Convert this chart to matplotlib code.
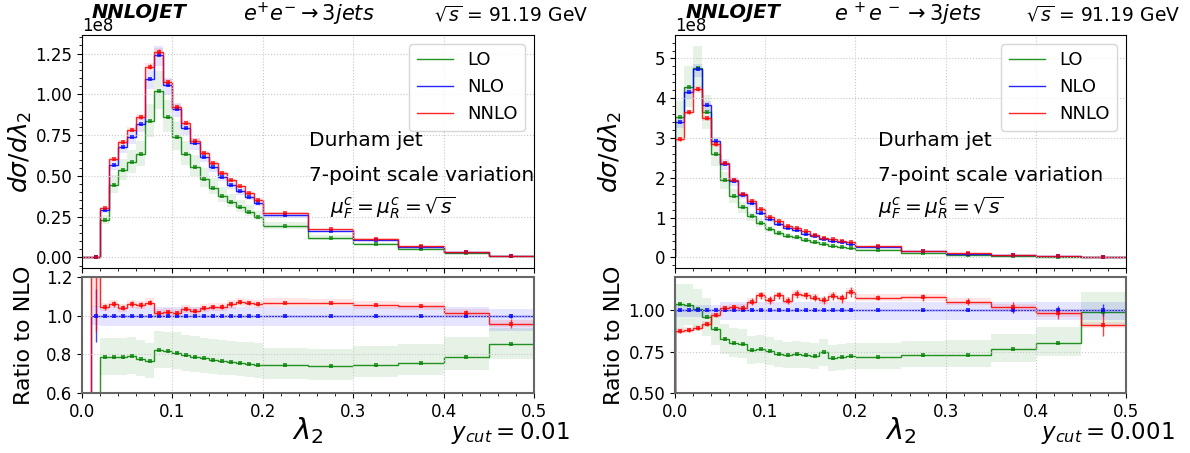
import numpy as np
import matplotlib
matplotlib.use("Agg")
import matplotlib.pyplot as plt
from matplotlib.ticker import AutoMinorLocator, MultipleLocator

nan = np.nan

# bin edges in lambda_2
edges = [0.00, 0.01, 0.02, 0.03, 0.04, 0.05, 0.06, 0.07, 0.08, 0.09, 0.10,
         0.11, 0.12, 0.13, 0.14, 0.15, 0.16, 0.17, 0.18, 0.19, 0.20,
         0.25, 0.30, 0.35, 0.40, 0.45, 0.50]

# ---- ycut = 0.01 ----
# NLO in units of 1e8, LO / NNLO as ratio to NLO
nlo_a = [0.0, 0.002, 0.291, 0.569, 0.680, 0.739, 0.816, 1.095, 1.243, 1.055,
         0.909, 0.796, 0.700, 0.617, 0.553, 0.494, 0.447, 0.407, 0.370, 0.334,
         0.257, 0.163, 0.108, 0.065, 0.031, 0.007]
lo_ratio_a = [nan, 0.25, 0.786, 0.785, 0.785, 0.791, 0.776, 0.765, 0.822, 0.815,
              0.809, 0.795, 0.788, 0.781, 0.773, 0.766, 0.761, 0.756, 0.752, 0.747,
              0.744, 0.740, 0.744, 0.757, 0.787, 0.852]
nnlo_ratio_a = [nan, 1.80, 1.043, 1.060, 1.042, 1.061, 1.056, 1.068, 1.015, 1.019,
                1.015, 1.035, 1.023, 1.040, 1.044, 1.047, 1.058, 1.071, 1.065, 1.062,
                1.068, 1.064, 1.056, 1.048, 1.015, 0.959]
# statistical errors (ratio units)
lo_err_a = [nan, 0.002] + [0.002] * 24
nlo_err_a = [nan, 0.137] + [0.003] * 22 + [0.004, 0.010]
nnlo_err_a = [nan, 0.88] + [0.015] * 6 + [0.011] * 12 + [0.005] * 4 + [0.015, 0.022]
# scale variation envelopes (relative)
lo_up_a = [0.0, 0.12, 0.125, 0.125, 0.125, 0.125, 0.125, 0.125, 0.12, 0.125,
           0.13, 0.13, 0.135, 0.135, 0.14, 0.14, 0.145, 0.145, 0.15, 0.15,
           0.12, 0.12, 0.13, 0.13, 0.13, 0.10]
lo_dn_a = [0.0, 0.11, 0.115, 0.115, 0.115, 0.115, 0.115, 0.115, 0.11, 0.105,
           0.105, 0.10, 0.10, 0.10, 0.095, 0.095, 0.09, 0.09, 0.09, 0.09,
           0.095, 0.095, 0.085, 0.085, 0.085, 0.092]
nlo_up_a = [0.0, 0.05] + [0.045] * 23 + [0.034]
nlo_dn_a = [0.0, 0.05] + [0.056] * 23 + [0.077]
nnlo_up_a = [0.0, 0.40] + [0.02] * 24
nnlo_dn_a = [0.0, 0.42] + [0.02] * 24

# ---- ycut = 0.001 ----
nlo_b = [3.40, 4.15, 4.725, 3.82, 2.93, 2.35, 1.92, 1.575, 1.358, 1.125,
         0.958, 0.833, 0.75, 0.683, 0.60, 0.533, 0.458, 0.417, 0.375, 0.34,
         0.267, 0.15, 0.095, 0.05, 0.025, 0.01]
lo_ratio_b = [1.038, 1.034, 1.006, 0.957, 0.884, 0.827, 0.804, 0.797, 0.761, 0.766,
              0.754, 0.736, 0.729, 0.733, 0.728, 0.724, 0.746, 0.710, 0.718, 0.722,
              0.717, 0.728, 0.732, 0.764, 0.802, 0.988]
nnlo_ratio_b = [0.873, 0.878, 0.895, 0.914, 0.969, 1.011, 1.018, 1.015, 1.051, 1.089,
                1.061, 1.089, 1.057, 1.097, 1.089, 1.076, 1.060, 1.087, 1.071, 1.111,
                1.076, 1.078, 1.052, 1.018, 0.980, 0.910]
lo_err_b = [0.003] * 26
nlo_err_b = [0.004] * 8 + [0.008] * 12 + [0.005] * 3 + [0.016, 0.027, 0.036]
nnlo_err_b = [0.012] * 5 + [0.016] * 3 + [0.022] * 8 + [0.025] * 3 + [0.03,
              0.016, 0.02, 0.022, 0.03, 0.035, 0.067]
lo_up_b = [0.116, 0.12, 0.12, 0.12] + [0.11] * 16 + [0.12] * 5 + [0.12]
lo_dn_b = [0.15, 0.12, 0.12, 0.12] + [0.11] * 16 + [0.10] * 5 + [0.08]
nlo_up_b = [0.03] * 5 + [0.05] * 21
nlo_dn_b = [0.04] * 5 + [0.06] * 21
nnlo_up_b = [0.02] * 26
nnlo_dn_b = [0.02] * 26

W, H = 1190, 453


def draw_panel(axt, axr, nlo, series):
    e = np.array(edges)
    c = 0.5 * (e[1:] + e[:-1])
    nlo = np.array(nlo, float) * 1e8
    for name, col, r, err, up, dn in series:
        r = np.array(r, float)
        err = np.array(err, float)
        up = np.array(up, float)
        dn = np.array(dn, float)
        val = nlo * r
        # top panel: scale band, histogram line, stat errors
        axt.stairs(val * (1 + up), e, baseline=val * (1 - dn), fill=True,
                   color=col, alpha=0.1, lw=0)
        axt.stairs(np.nan_to_num(val), e, baseline=0, color=col, lw=1.0,
                   alpha=0.85, label=name)
        axt.errorbar(c, val, yerr=err * nlo, fmt='s', ms=2.2, mew=0, color=col,
                     capsize=3, elinewidth=1, capthick=1, alpha=0.7)
        # ratio panel
        axr.stairs(r * (1 + up), e, baseline=r * (1 - dn), fill=True,
                   color=col, alpha=0.1, lw=0)
        axr.stairs(r, e, baseline=0, color=col, lw=1.0, alpha=0.85)
        axr.errorbar(c, r, yerr=err, fmt='s', ms=2.4, mew=0, color=col,
                     capsize=3, elinewidth=1, capthick=1, alpha=0.75)


fig = plt.figure(figsize=(W / 100, H / 100), dpi=100)

panels = [
    dict(x0=82, x1=534, nlo=nlo_a, lo=lo_ratio_a, nnlo=nnlo_ratio_a,
         errs=(lo_err_a, nlo_err_a, nnlo_err_a),
         bands=((lo_up_a, lo_dn_a), (nlo_up_a, nlo_dn_a), (nnlo_up_a, nnlo_dn_a)),
         ymaj=0.25e8, rlim=(0.6, 1.2), rticks=[0.6, 0.8, 1.0, 1.2],
         ycut=r'$y_{cut} = 0.01$', ycut_x=570, lab_x=34, txt_x=0.502, mu_x=0.549,
         logo_x=92, proc_x=309, rs_x=588, proc=r'$e^{+}e^{-}\rightarrow 3jets$'),
    dict(x0=675, x1=1126, nlo=nlo_b, lo=lo_ratio_b, nnlo=nnlo_ratio_b,
         errs=(lo_err_b, nlo_err_b, nnlo_err_b),
         bands=((lo_up_b, lo_dn_b), (nlo_up_b, nlo_dn_b), (nnlo_up_b, nnlo_dn_b)),
         ymaj=1e8, rlim=(0.5, 1.2), rticks=[0.5, 0.75, 1.0],
         ycut=r'$y_{cut} = 0.001$', ycut_x=1175, lab_x=624, txt_x=0.45, mu_x=0.45,
         logo_x=686, proc_x=908, rs_x=1180, proc=r'$e^{\,+}e^{\,-}\rightarrow 3jets$'),
]

for p in panels:
    left = p['x0'] / W
    span = p['x1'] - p['x0']
    axt = fig.add_axes([left, 1 - 268 / H, span / W, 233 / H])
    axr = fig.add_axes([left, 1 - 393 / H, span / W, 116 / H], sharex=axt)

    nlo_ratio = np.where(np.array(p['nlo']) > 0, 1.0, nan)
    series = [
        ("LO", "green", p['lo'], p['errs'][0], *p['bands'][0]),
        ("NLO", "blue", nlo_ratio, p['errs'][1], *p['bands'][1]),
        ("NNLO", "red", p['nnlo'], p['errs'][2], *p['bands'][2]),
    ]
    draw_panel(axt, axr, p['nlo'], series)

    axt.use_sticky_edges = False
    axt.set_xlim(0, 0.5)
    axt.yaxis.set_major_locator(MultipleLocator(p['ymaj']))
    axt.yaxis.set_minor_locator(AutoMinorLocator(5))
    axt.xaxis.set_major_locator(MultipleLocator(0.1))
    axt.xaxis.set_minor_locator(AutoMinorLocator(5))
    axt.tick_params(labelbottom=False, labelsize=12)
    axt.yaxis.get_offset_text().set_fontsize(12)
    axt.grid(True, ls=':', color='#c8c8c8', lw=0.8)
    axt.set_ylabel(r'$d\sigma/d\lambda_2$', fontsize=18)
    axt.yaxis.set_label_coords((p['lab_x'] - p['x0']) / span, 0.5)
    axt.legend(loc='upper right', fontsize=13)

    axt.text(p['txt_x'], 0.549, 'Durham jet', transform=axt.transAxes,
             fontsize=14.5, va='center')
    axt.text(p['txt_x'], 0.399, '7-point scale variation', transform=axt.transAxes,
             fontsize=14.5, va='center')
    axt.text(p['mu_x'], 0.258, r'$\mu_F^c = \mu_R^c = \sqrt{s}$',
             transform=axt.transAxes, fontsize=14.5, va='center')

    axr.set_ylim(*p['rlim'])
    axr.set_yticks(p['rticks'])
    axr.set_xlim(0, 0.5)
    axr.tick_params(labelsize=12)
    axr.grid(True, ls=':', color='#c8c8c8', lw=0.8)
    for s in axr.spines.values():
        s.set_color('#666666')
        s.set_linewidth(1.5)
    axr.set_ylabel('Ratio to NLO', fontsize=16)
    axr.yaxis.set_label_coords((p['lab_x'] - p['x0']) / span, 0.5)

    # x label and ycut
    fig.text((p['x0'] + p['x1']) / 2 / W, 1 - 431 / H, r'$\lambda_2$',
             ha='center', va='center', fontsize=21)
    fig.text(p['ycut_x'] / W, 1 - 433 / H, p['ycut'], ha='right', va='center',
             fontsize=16.5)

    # header
    fig.text(p['logo_x'] / W, 1 - 13 / H, 'NNLOJET', fontsize=14,
             fontweight='bold', fontstyle='italic', va='center', ha='left')
    fig.text(p['proc_x'] / W, 1 - 14 / H, p['proc'], fontsize=15,
             va='center', ha='center')
    fig.text(p['rs_x'] / W, 1 - 15 / H, r'$\sqrt{s}$ = 91.19 GeV', fontsize=13.5,
             va='center', ha='right')

fig.savefig('out.png', dpi=100)
